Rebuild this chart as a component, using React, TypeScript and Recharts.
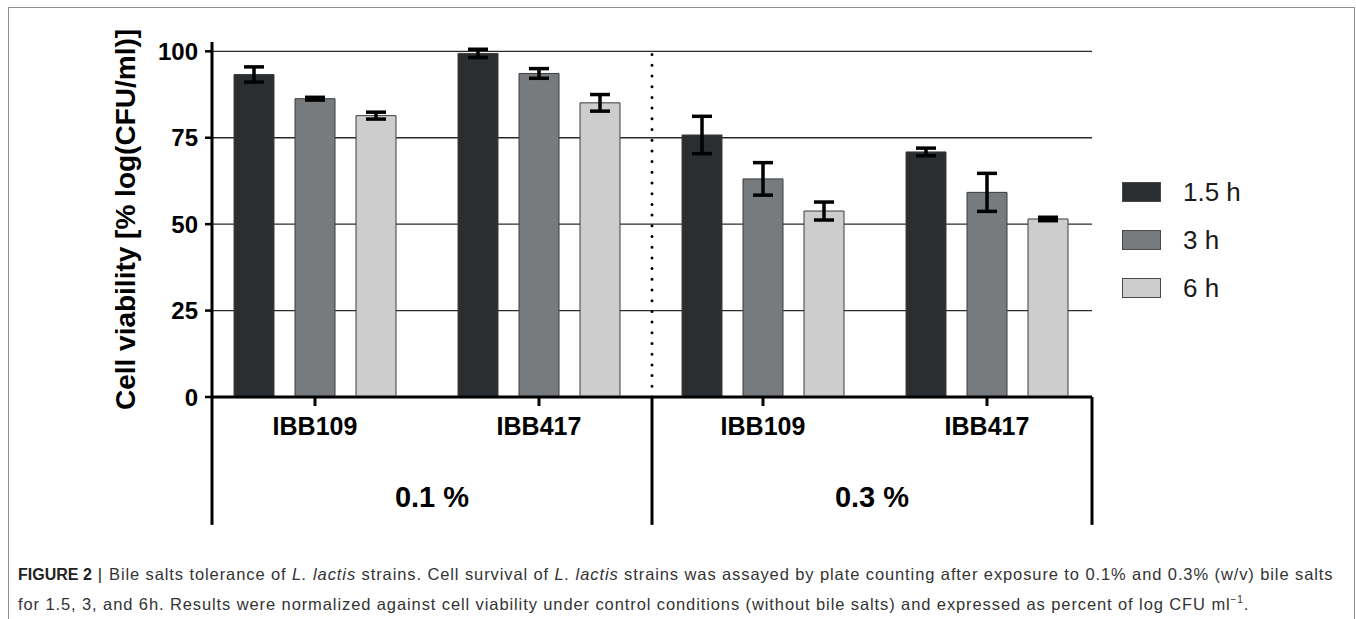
import { BarChart, Bar, XAxis, YAxis, CartesianGrid, ErrorBar, Legend, ReferenceLine, Label } from 'recharts';

const FONT = '"Liberation Sans", Arial, Helvetica, sans-serif';

const strains = ['IBB109', 'IBB417', 'IBB109', 'IBB417'];
const concentrations = ['0.1 %', '0.3 %'];
// bile salt concentration of each strain column
const columnConcentration = ['0.1 %', '0.1 %', '0.3 %', '0.3 %'];

// mean viability (%) and SD for each exposure time, one value per strain column
const viability15h = [93.3, 99.4, 75.8, 70.9];
const sd15h = [2.2, 1.2, 5.4, 1.1];
const viability3h = [86.3, 93.6, 63.1, 59.2];
const sd3h = [0.4, 1.4, 4.7, 5.5];
const viability6h = [81.4, 85.1, 53.8, 51.5];
const sd6h = [1.0, 2.4, 2.6, 0.5];

const yTicks = [0, 25, 50, 75, 100];

const series = [
  { key: 'h15', err: 'h15sd', name: '1.5 h', fill: '#2b2e31' },
  { key: 'h3', err: 'h3sd', name: '3 h', fill: '#777b7e' },
  { key: 'h6', err: 'h6sd', name: '6 h', fill: '#cdcdcd' },
];

const data = strains.map((strain, i) => ({
  strain,
  conc: columnConcentration[i],
  h15: viability15h[i],
  h15sd: sd15h[i],
  h3: viability3h[i],
  h3sd: sd3h[i],
  h6: viability6h[i],
  h6sd: sd6h[i],
}));

// vertical bracket edges below the axis: start of the first block, then the end of every block
const bracketEdges = [
  { conc: concentrations[0], position: 'start' as const },
  ...concentrations.map((c) => ({ conc: c, position: 'end' as const })),
];

function TimeLegend() {
  return (
    <div style={{ fontFamily: FONT }}>
      {series.map((s) => (
        <div key={s.key} style={{ display: 'flex', alignItems: 'center', height: 48 }}>
          <div
            style={{
              width: 37,
              height: 18,
              background: s.fill,
              border: '1px solid #4a4a4a',
              marginRight: 22,
            }}
          />
          <span style={{ fontSize: 26, color: '#1a1a1a' }}>{s.name}</span>
        </div>
      ))}
    </div>
  );
}

export default function App() {
  return (
    <div
      style={{
        position: 'relative',
        width: 1356,
        height: 619,
        overflow: 'hidden',
        background: '#fff',
        fontFamily: FONT,
      }}
    >
      <style>{'body{margin:0;overflow:hidden}'}</style>
      <div
        style={{
          position: 'absolute',
          left: 8,
          top: 7,
          width: 1345,
          height: 660,
          border: '1px solid #8f8f8f',
        }}
      />
      <div style={{ position: 'absolute', left: 0, top: 0 }}>
        <BarChart
          width={1356}
          height={540}
          data={data}
          margin={{ top: 42, right: 264, bottom: 1, left: 0 }}
          barSize={40}
          barGap={21}
        >
          <CartesianGrid
            vertical={false}
            horizontalValues={yTicks.filter((t) => t > 0)}
            stroke="#2a2a2a"
            strokeWidth={1.4}
          />
          <XAxis
            dataKey="strain"
            interval={0}
            padding={{ left: -9, right: -7 }}
            height={42}
            tickSize={9}
            tickMargin={11}
            axisLine={{ stroke: '#000', strokeWidth: 3 }}
            tickLine={{ stroke: '#000', strokeWidth: 3 }}
            tick={{ fill: '#000', fontSize: 25, fontWeight: 700, fontFamily: FONT }}
          />
          <XAxis
            xAxisId="conc"
            dataKey="conc"
            allowDuplicatedCategory={false}
            interval={0}
            height={100}
            axisLine={false}
            tickLine={false}
            tickSize={0}
            tickMargin={47}
            tick={{ fill: '#000', fontSize: 29, fontWeight: 700, fontFamily: FONT }}
          />
          <YAxis
            domain={[0, 102.7]}
            allowDataOverflow
            ticks={yTicks}
            width={212}
            tickSize={7}
            tickMargin={7}
            axisLine={{ stroke: '#000', strokeWidth: 3 }}
            tickLine={{ stroke: '#000', strokeWidth: 2.5 }}
            tick={{ fill: '#000', fontSize: 24, fontWeight: 700, fontFamily: FONT }}
          >
            <Label
              value="Cell viability [% log(CFU/ml)]"
              angle={-90}
              position="center"
              dx={19}
              style={{ fill: '#000', fontSize: 28, fontWeight: 700, fontFamily: FONT }}
            />
          </YAxis>
          <Legend
            layout="vertical"
            align="center"
            verticalAlign="middle"
            wrapperStyle={{ left: 1122, top: 168, width: 160 }}
            content={() => <TimeLegend />}
          />
          {series.map((s) => (
            <Bar
              key={s.key}
              dataKey={s.key}
              name={s.name}
              fill={s.fill}
              stroke="#3c3c3c"
              strokeWidth={1}
              isAnimationActive={false}
            >
              <ErrorBar dataKey={s.err} width={10} stroke="#000" strokeWidth={3.5} direction="y" />
            </Bar>
          ))}
          {/* dotted separator between the two bile salt concentrations */}
          <ReferenceLine
            xAxisId="conc"
            position="start"
            segment={[
              { x: concentrations[1], y: 0 },
              { x: concentrations[1], y: 101.4 },
            ]}
            ifOverflow="visible"
            stroke="#000"
            strokeWidth={3}
            strokeDasharray="0 10.7"
            strokeLinecap="round"
          />
          {/* bracket lines under the axis */}
          {bracketEdges.map((e, i) => (
            <ReferenceLine
              key={i}
              xAxisId="conc"
              position={e.position}
              segment={[
                { x: e.conc, y: 0 },
                { x: e.conc, y: -37 },
              ]}
              ifOverflow="visible"
              stroke="#000"
              strokeWidth={3}
            />
          ))}
        </BarChart>
      </div>
      <div
        style={{
          position: 'absolute',
          left: 18,
          top: 562,
          fontSize: 16.5,
          letterSpacing: 0.9,
          lineHeight: '25px',
          color: '#333',
          whiteSpace: 'nowrap',
        }}
      >
        <div>
          <b style={{ color: '#222', letterSpacing: 0, fontSize: 16 }}>FIGURE 2</b>
          <span style={{ margin: '0 6px 0 6px', color: '#222' }}>|</span>
          Bile salts tolerance of <i>L. lactis</i> strains. Cell survival of <i>L. lactis</i> strains was
          assayed by plate counting after exposure to 0.1% and 0.3% (w/v) bile salts
        </div>
        <div>
          for 1.5, 3, and 6h. Results were normalized against cell viability under control conditions
          (without bile salts) and expressed as percent of log CFU ml<sup style={{ fontSize: 10 }}>−1</sup>.
        </div>
      </div>
    </div>
  );
}
